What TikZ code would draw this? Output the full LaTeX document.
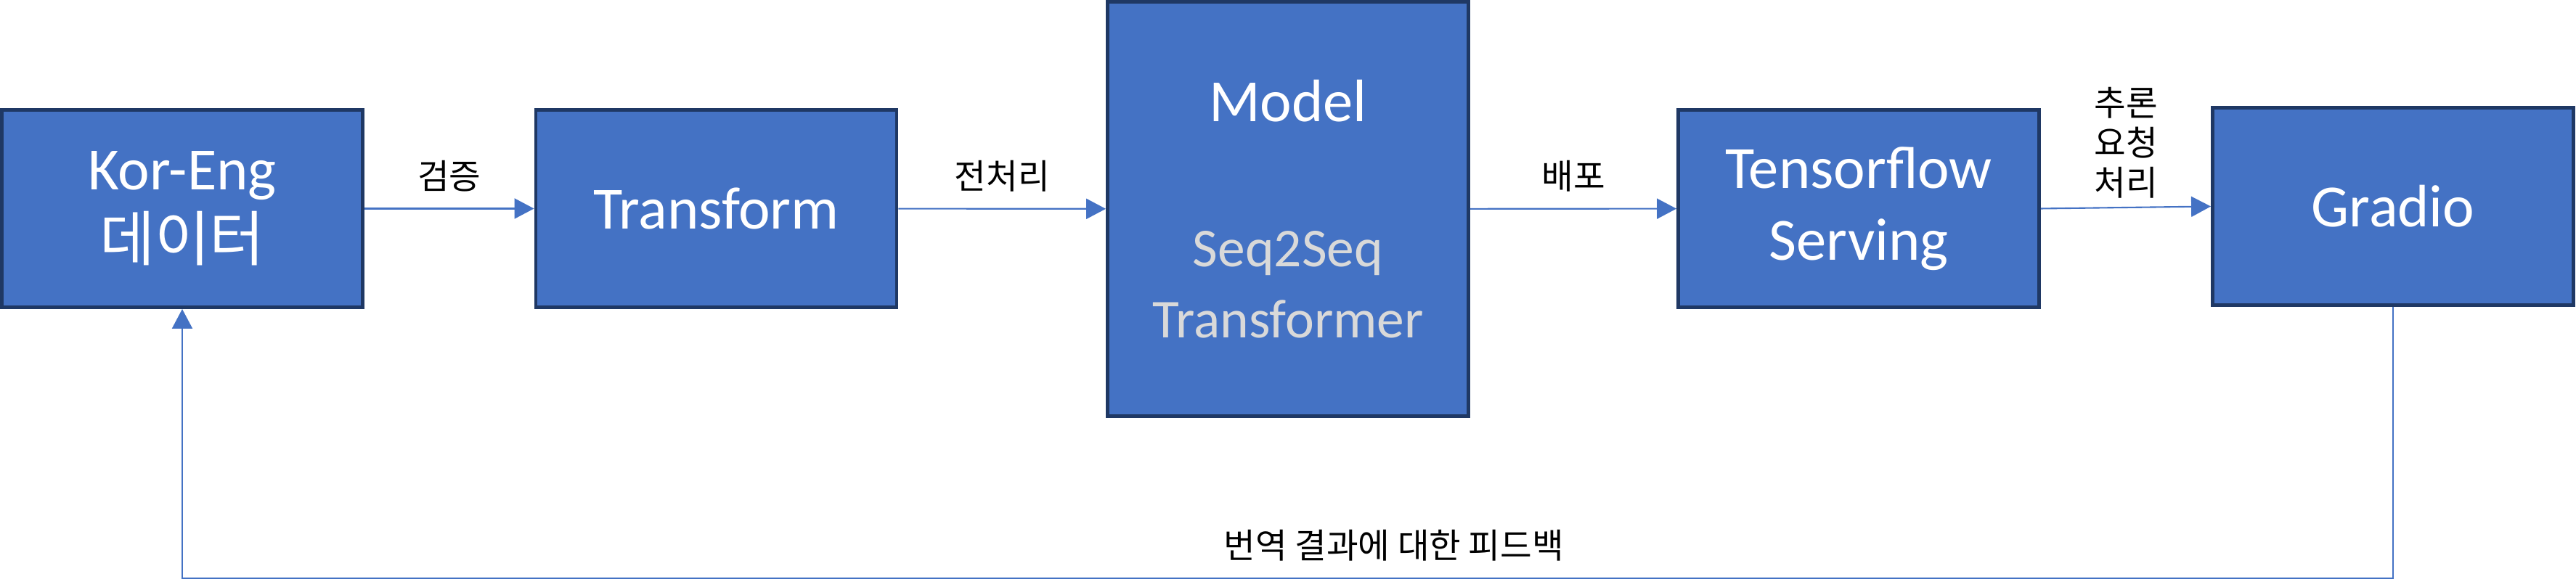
\documentclass[tikz,border=0pt]{standalone}
\usepackage{fontspec}
\setmainfont{Carlito}
\newfontfamily\kr{Noto Sans CJK KR}
\usetikzlibrary{arrows.meta}
\definecolor{boxfill}{HTML}{4472C4}
\definecolor{boxline}{HTML}{1F3864}
\definecolor{subtext}{HTML}{D9D9D9}
\newcommand\subline{\color{subtext}\fontsize{21.5}{25}\selectfont}
\begin{document}
\begin{tikzpicture}[
  box/.style={draw=boxline,line width=1.4pt,fill=boxfill,text=white,
    minimum width=4.97cm,minimum height=2.72cm,align=center,
    font=\fontsize{23.5}{28}\selectfont},
  flow/.style={draw=boxfill,line width=0.6pt,-{Triangle[length=0.27cm,width=0.28cm]}},
  lbl/.style={font=\kr\fontsize{13.5}{15.6}\selectfont,align=center}
]
  \useasboundingbox (0,0) rectangle (35.48,7.98);

  \node[box] (kd) at (2.51, 5.105) {Kor-Eng\\{\kr 데이터}};
  \node[box] (tr) at (9.865, 5.105) {Transform};
  \node[box,minimum height=5.71cm] (md) at (17.74, 5.10)
    {Model\\[29pt]\subline Seq2Seq\\\subline Transformer};
  \node[box] (ts) at (25.60, 5.105) {Tensorflow\\Serving};
  \node[box] (gr) at (32.96, 5.135) {Gradio};

  \draw[flow] (kd) -- node[lbl,above,yshift=3pt] {검증} (tr);
  \draw[flow] (tr) -- node[lbl,above,yshift=3pt] {전처리} (md);
  \draw[flow] (md) -- node[lbl,above,yshift=3pt] {배포} (ts);
  \draw[flow] (ts.east) -- node[lbl,above] {추론\\요청\\처리} (gr.west);

  \draw[flow] (gr.south) -- ++(0,-3.74)
    -| node[lbl,pos=0.226,above,yshift=3pt] {번역 결과에 대한 피드백} (kd.south);
\end{tikzpicture}
\end{document}
